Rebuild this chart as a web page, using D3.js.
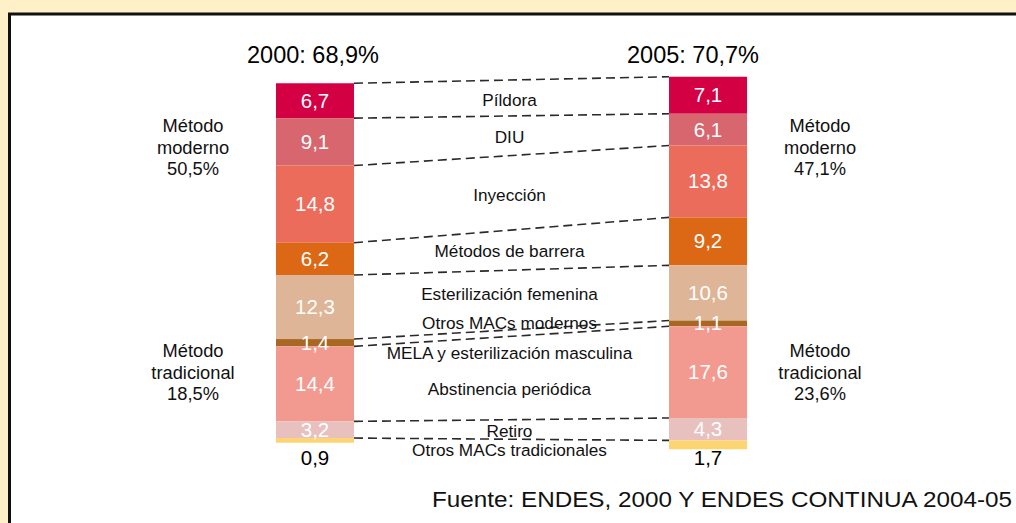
<!DOCTYPE html>
<html><head><meta charset="utf-8">
<script src="https://cdn.jsdelivr.net/npm/d3@7"></script>
<style>
html,body{margin:0;padding:0;background:#FFF0C8;}
svg{display:block;font-family:"Liberation Sans",Arial,sans-serif;}
</style></head>
<body>
<svg id="c" width="1016" height="523"></svg>
<script>
// ---- data ----
const years = ["2000", "2005"];
const yearTitles = ["2000: 68,9%", "2005: 70,7%"];
const methods = ["Píldora", "DIU", "Inyección", "Métodos de barrera", "Esterilización femenina",
  "Otros MACs modernos", "Abstinencia periódica", "Retiro", "Otros MACs tradicionales"];
const values2000 = [6.7, 9.1, 14.8, 6.2, 12.3, 1.4, 14.4, 3.2, 0.9];
const values2005 = [7.1, 6.1, 13.8, 9.2, 10.6, 1.1, 17.6, 4.3, 1.7];
const middleLabels = ["Píldora", "DIU", "Inyección", "Métodos de barrera", "Esterilización femenina",
  "Otros MACs modernos", "MELA y esterilización masculina", "Abstinencia periódica", "Retiro", "Otros MACs tradicionales"];
const labelSegment = [0, 1, 2, 3, 4, 5, 5, 6, 7, 8];
const groupModerno = ["Método", "moderno"];
const groupTradicional = ["Método", "tradicional"];
const moderno = ["50,5%", "47,1%"];
const tradicional = ["18,5%", "23,6%"];
const source = "Fuente: ENDES, 2000 Y ENDES CONTINUA 2004-05";

// ---- style / layout ----
const colors = ["#D30044", "#D7666E", "#EB6C5A", "#DC6714", "#DEB596", "#A86722", "#F29A90", "#E8C1BF", "#FCD472"];
const labelNudge = [2, 1, 2, 0.5, -6, -10.5, 20, 11, 1.2, 7.4];
const barW = 78;
const fmt = v => d3.format(".1f")(v).replace(".", ",");

const svg = d3.select("#c");
svg.append("rect").attr("x", 9.5).attr("y", 14).attr("width", 1020).attr("height", 520)
  .attr("fill", "#fff").attr("stroke", "#111").attr("stroke-width", 3);

const x = d3.scalePoint().domain(years).range([315, 708]);
const y = d3.scaleLinear().domain([-40, 40]).range([263 - 40 * 5.21, 263 + 40 * 5.21]);

const totals = [values2000, values2005].map(v => d3.sum(v));
const series = [values2000, values2005].map((vals, i) => {
  let acc = -totals[i] / 2;
  return vals.map((v, j) => {
    const s = { year: years[i], i: j, v, y0: acc, y1: acc + v };
    acc += v;
    return s;
  });
});
const belowY = y(d3.max(totals) / 2) + 16;

// dashed connectors (top of each segment)
const conn = svg.append("g");
methods.forEach((m, j) => {
  conn.append("line")
    .attr("x1", x("2000") + barW / 2).attr("x2", x("2005") - barW / 2)
    .attr("y1", y(series[0][j].y0)).attr("y2", y(series[1][j].y0))
    .attr("stroke", "#2a2a2a").attr("stroke-width", 1.6).attr("stroke-dasharray", "9,5");
});

// bars
series.forEach((segs, i) => {
  const g = svg.append("g");
  g.selectAll("rect").data(segs).join("rect")
    .attr("x", d => x(d.year) - barW / 2).attr("width", barW)
    .attr("y", d => y(d.y0)).attr("height", d => y(d.y1) - y(d.y0))
    .attr("fill", d => colors[d.i]);
  g.selectAll("text").data(segs).join("text")
    .attr("x", d => x(d.year))
    .attr("y", (d, j) => j === segs.length - 1 ? belowY : (y(d.y0) + y(d.y1)) / 2 + 7)
    .attr("text-anchor", "middle").attr("font-size", 20.5)
    .attr("fill", (d, j) => j === segs.length - 1 ? "#000" : "#fff")
    .text(d => fmt(d.v));
});

// titles
const titleOffset = [-2, -15];
years.forEach((yr, i) => {
  svg.append("text").attr("x", x(yr) + titleOffset[i]).attr("y", 63)
    .attr("text-anchor", "middle").attr("font-size", 23.5).text(yearTitles[i]);
});

// middle labels
const midX = (x("2000") + x("2005")) / 2;
middleLabels.forEach((lab, k) => {
  const j = labelSegment[k];
  const a = series[0][j], b = series[1][j];
  const cy = ((y(a.y0) + y(a.y1)) / 2 + (y(b.y0) + y(b.y1)) / 2) / 2 + labelNudge[k];
  svg.append("text").attr("x", midX - 2).attr("y", cy + 6)
    .attr("text-anchor", "middle").attr("font-size", 17.2).attr("fill", "#111").text(lab);
});

// group labels
const sideX = [193, 820];
years.forEach((yr, i) => {
  [groupModerno.concat([moderno[i]]), groupTradicional.concat([tradicional[i]])].forEach((lines, g) => {
    const t = svg.append("text").attr("text-anchor", "middle").attr("font-size", 18.3).attr("fill", "#111");
    const base = g === 0 ? 132 : 357;
    lines.forEach((ln, r) => t.append("tspan").attr("x", sideX[i]).attr("y", base + r * 21.5).text(ln));
  });
});

// source
svg.append("text").attr("x", 432).attr("y", 507)
  .attr("font-size", 22).attr("fill", "#111")
  .attr("textLength", 580).attr("lengthAdjust", "spacingAndGlyphs").text(source);
</script>
</body></html>
